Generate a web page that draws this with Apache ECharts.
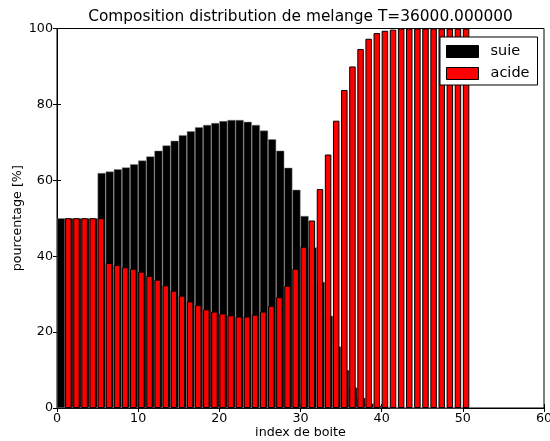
<!DOCTYPE html>
<html>
<head>
<meta charset="utf-8">
<script src="https://cdn.jsdelivr.net/npm/echarts@6/dist/echarts.min.js"></script>
<style>
    html, body { margin: 0; padding: 0; background: #fff; }
    #chart { width: 550px; height: 441px; }
</style>
</head>
<body>
<div id="chart"></div>
<script>
// composition par boite (%), index 0..49
const suie = [
    50, 50, 50, 50, 50, 61.9, 62.3, 62.9, 63.4, 64.2,
    65.2, 66.3, 67.8, 69.2, 70.4, 71.9, 72.9, 74.0, 74.6, 75.1,
    75.6, 75.9, 75.9, 75.4, 74.6, 73.1, 70.8, 67.8, 63.3, 57.5,
    50.6, 42.3, 33.2, 24.3, 16.2, 10.0, 5.4, 2.7, 1.2, 0.6,
    0.3, 0, 0, 0, 0, 0, 0, 0, 0, 0
];
const acide = [
    50, 50, 50, 50, 50, 38.2, 37.7, 37.1, 36.7, 35.9,
    34.8, 33.8, 32.3, 30.9, 29.6, 28.1, 27.1, 26.0, 25.4, 24.9,
    24.4, 24.1, 24.1, 24.6, 25.4, 26.9, 29.2, 32.2, 36.7, 42.5,
    49.4, 57.7, 66.8, 75.7, 83.8, 90.0, 94.6, 97.3, 98.8, 99.4,
    99.7, 100, 100, 100, 100, 100, 100, 100, 100, 100
];
// les barres acide sont decalees d'une boite vers la droite
const acideShift = 1;

const xTicks = { min: 0, max: 60, step: 10 };
const yTicks = { min: 0, max: 100, step: 20 };

const titre = 'Composition distribution de melange T=36000.000000';

const chartDom = document.getElementById('chart');
const myChart = echarts.init(chartDom, null, { renderer: 'canvas' });

// geometrie du repere
const gridLeft = 57, gridRight = 6, gridTop = 28.5, gridBottom = 33;
const plotW = 550 - gridLeft - gridRight;
const unitPx = plotW / (xTicks.max - xTicks.min);
const suieW = unitPx;        // largeur 1
const acideW = 0.8 * unitPx; // largeur 0.8
// avec barGap -100% les deux barres partagent le bord gauche c - acideW/2
const half = 0.4;

const suieData = suie.map((v, i) => [i + half, v]);
const acideData = acide.map((v, i) => [i + acideShift + half, v]);

const font = 'DejaVu Sans';
const labelSize = 12.7;
const tickStyle = { inside: true, length: 4, lineStyle: { color: '#000', width: 1 } };

const option = {
    animation: false,
    textStyle: { fontFamily: font },
    title: {
        text: titre,
        left: gridLeft + plotW / 2 - 5,
        textAlign: 'center',
        top: 4,
        textStyle: { fontFamily: font, fontSize: 15.4, fontWeight: 'normal', color: '#000' }
    },
    legend: {
        orient: 'vertical',
        left: 440,
        top: 37,
        padding: [7, 8, 4, 6],
        itemGap: 7,
        itemWidth: 32,
        itemHeight: 12,
        backgroundColor: '#fff',
        borderColor: '#000',
        borderWidth: 1,
        textStyle: { fontFamily: font, fontSize: 14.5, color: '#000', padding: [0, 0, 0, 7] },
        data: [
            { name: 'suie', icon: 'rect', itemStyle: { color: '#000', borderColor: '#000', borderWidth: 1 } },
            { name: 'acide', icon: 'rect', itemStyle: { color: '#ff0000', borderColor: '#000', borderWidth: 1 } }
        ]
    },
    grid: {
        left: gridLeft,
        right: gridRight,
        top: gridTop,
        bottom: gridBottom,
        outerBoundsMode: 'none',
        containLabel: false,
        show: true,
        borderColor: '#000',
        borderWidth: 1
    },
    xAxis: [{
        type: 'value',
        min: xTicks.min,
        max: xTicks.max,
        interval: xTicks.step,
        name: 'index de boite',
        nameLocation: 'middle',
        nameGap: 18,
        nameMoveOverlap: false,
        nameTextStyle: { fontFamily: font, fontSize: labelSize, color: '#000' },
        axisLine: { show: true, lineStyle: { color: '#000' } },
        axisTick: tickStyle,
        axisLabel: { fontFamily: font, fontSize: labelSize, color: '#000', margin: 4 },
        splitLine: { show: false }
    }, {
        type: 'value',
        position: 'top',
        min: xTicks.min,
        max: xTicks.max,
        interval: xTicks.step,
        axisLine: { show: true, lineStyle: { color: '#000' } },
        axisTick: tickStyle,
        axisLabel: { show: false },
        splitLine: { show: false }
    }],
    yAxis: [{
        type: 'value',
        min: yTicks.min,
        max: yTicks.max,
        interval: yTicks.step,
        name: 'pourcentage [%]',
        nameLocation: 'middle',
        nameGap: 33,
        nameMoveOverlap: false,
        nameTextStyle: { fontFamily: font, fontSize: labelSize, color: '#000' },
        axisLine: { show: true, lineStyle: { color: '#000' } },
        axisTick: tickStyle,
        axisLabel: { fontFamily: font, fontSize: labelSize, color: '#000', margin: 4 },
        splitLine: { show: false }
    }, {
        type: 'value',
        position: 'right',
        min: yTicks.min,
        max: yTicks.max,
        interval: yTicks.step,
        axisLine: { show: true, lineStyle: { color: '#000' } },
        axisTick: tickStyle,
        axisLabel: { show: false },
        splitLine: { show: false }
    }],
    series: [{
        name: 'suie',
        type: 'bar',
        barWidth: suieW,
        barGap: '-100%',
        itemStyle: { color: '#000', borderColor: '#808080', borderWidth: 0.5 },
        data: suieData
    }, {
        name: 'acide',
        type: 'bar',
        barWidth: acideW,
        barGap: '-100%',
        itemStyle: { color: '#ff0000', borderColor: '#000', borderWidth: 1 },
        data: acideData
    }]
};

myChart.setOption(option);
window.addEventListener('resize', () => {
    myChart.resize();
});
</script>
</body>
</html>
